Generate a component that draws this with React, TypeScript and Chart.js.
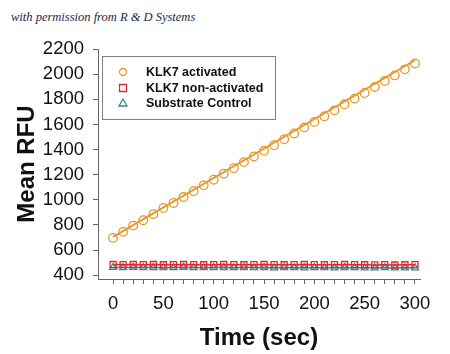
import React, { useEffect, useRef } from "react";
import { Chart, registerables } from "chart.js";

Chart.register(...registerables);

const times = [0, 10, 20, 30, 40, 50, 60, 70, 80, 90, 100, 110, 120, 130, 140, 150, 160, 170, 180, 190, 200, 210, 220, 230, 240, 250, 260, 270, 280, 290, 300];
const activated = [697, 745, 795, 838, 886, 935, 975, 1022, 1068, 1115, 1160, 1208, 1252, 1300, 1345, 1390, 1435, 1482, 1528, 1575, 1620, 1665, 1712, 1760, 1805, 1850, 1898, 1945, 1990, 2038, 2085];
const nonActivated = [485, 484, 485, 484, 485, 483, 484, 485, 484, 483, 484, 485, 484, 483, 484, 485, 484, 483, 484, 485, 484, 483, 484, 485, 484, 483, 482, 484, 481, 483, 484];
const substrate = [462, 461, 462, 461, 461, 460, 461, 462, 461, 460, 461, 461, 460, 461, 461, 460, 459, 460, 460, 459, 460, 460, 459, 460, 460, 459, 459, 460, 458, 459, 459];
const fitTimes = [0, 300];
const fitValues = [705, 2110];
const seriesLabels = ["KLK7 activated", "KLK7 non-activated", "Substrate Control"];
const yTickValues = [400, 600, 800, 1000, 1200, 1400, 1600, 1800, 2000, 2200];
const xTickValues = [0, 10, 20, 30, 40, 50, 60, 70, 80, 90, 100, 110, 120, 130, 140, 150, 160, 170, 180, 190, 200, 210, 220, 230, 240, 250, 260, 270, 280, 290, 300];
const xLabeled = [0, 50, 100, 150, 200, 250, 300];

const ORANGE = "#E8972A";
const RED = "#E4262F";
const TEAL = "#2F8C8C";

const legendPlugin = {
  id: "boxLegend",
  afterDraw(chart: any) {
    const ctx = chart.ctx;
    ctx.save();
    const x0 = 102, y0 = 56, w = 173, h = 63;
    ctx.fillStyle = "#ffffff";
    ctx.fillRect(x0, y0, w, h);
    ctx.strokeStyle = "#7f7f7f";
    ctx.lineWidth = 1;
    ctx.strokeRect(x0 + 0.5, y0 + 0.5, w, h);
    const rows = [72, 88, 103];
    const ds = chart.data.datasets.filter((d: any) => d.label);
    ds.forEach((d: any, i: number) => {
      const cy = rows[i];
      const cx = 123;
      ctx.strokeStyle = d.pointBorderColor;
      ctx.lineWidth = 1.3;
      ctx.beginPath();
      if (d.pointStyle === "circle") {
        ctx.arc(cx, cy, 3.5, 0, Math.PI * 2);
      } else if (d.pointStyle === "rect") {
        ctx.rect(cx - 3.5, cy - 3.5, 7, 7);
      } else {
        ctx.moveTo(cx, cy - 4);
        ctx.lineTo(cx + 4, cy + 3);
        ctx.lineTo(cx - 4, cy + 3);
        ctx.closePath();
      }
      ctx.stroke();
      ctx.fillStyle = "#111111";
      ctx.font = "bold 12.5px 'Liberation Sans', Arial, sans-serif";
      ctx.textBaseline = "middle";
      ctx.textAlign = "left";
      ctx.fillText(d.label, 146, cy + 0.5);
    });
    ctx.restore();
  },
};

export default function App() {
  const ref = useRef<HTMLCanvasElement | null>(null);
  useEffect(() => {
    if (!ref.current) return;
    const mk = (ys: number[]) => times.map((t, i) => ({ x: t, y: ys[i] }));
    const chart = new Chart(ref.current, {
      type: "scatter",
      data: {
        datasets: [
          {
            label: "",
            data: fitTimes.map((t, i) => ({ x: t, y: fitValues[i] })),
            showLine: true,
            borderColor: ORANGE,
            borderWidth: 1.8,
            pointRadius: 0,
            order: 0,
          },
          {
            label: seriesLabels[0],
            data: mk(activated),
            showLine: false,
            pointStyle: "circle",
            pointRadius: 4.3,
            pointBorderWidth: 1.3,
            pointBorderColor: ORANGE,
            pointBackgroundColor: "rgba(255,255,255,0)",
            borderColor: ORANGE,
          },
          {
            label: seriesLabels[1],
            data: mk(nonActivated),
            showLine: true,
            borderColor: RED,
            borderWidth: 1.5,
            pointStyle: "rect",
            pointRadius: 4.3,
            pointBorderWidth: 1.3,
            pointBorderColor: RED,
            pointBackgroundColor: "rgba(255,255,255,0)",
          },
          {
            label: seriesLabels[2],
            data: mk(substrate),
            showLine: true,
            borderColor: TEAL,
            borderWidth: 1.5,
            pointStyle: "triangle",
            pointRadius: 4,
            pointBorderWidth: 1.3,
            pointBorderColor: TEAL,
            pointBackgroundColor: "rgba(255,255,255,0)",
          },
        ] as any,
      },
      options: {
        animation: false,
        responsive: false,
        maintainAspectRatio: false,
        layout: { padding: { left: 0, top: 49, right: 30, bottom: 0 } },
        plugins: { legend: { display: false }, tooltip: { enabled: false } },
        scales: {
          x: {
            type: "linear",
            min: -15,
            max: 305,
            afterFit: (s: any) => { s.height = 75; },
            afterBuildTicks: (s: any) => { s.ticks = xTickValues.map((v) => ({ value: v })); },
            ticks: {
              autoSkip: false,
              includeBounds: false,
              maxRotation: 0,
              minRotation: 0,
              padding: 9,
              color: "#111111",
              font: { size: 18.5, family: "'Liberation Sans', Arial, sans-serif" },
              callback: (v: any) => (xLabeled.includes(Number(v)) ? String(v) : ""),
            },
            grid: { drawOnChartArea: false, tickLength: 5, color: "#666666", lineWidth: 1 },
            border: { color: "#666666", width: 1 },
            title: {
              display: true,
              text: "Time (sec)",
              color: "#111111",
              font: { size: 24, weight: "bold", family: "'Liberation Sans', Arial, sans-serif" },
              padding: { top: 0, bottom: 1 },
            },
          } as any,
          y: {
            type: "linear",
            min: 370,
            max: 2200,
            afterFit: (s: any) => { s.width = 98; },
            afterBuildTicks: (s: any) => { s.ticks = yTickValues.map((v) => ({ value: v })); },
            ticks: {
              autoSkip: false,
              includeBounds: false,
              padding: 9,
              color: "#111111",
              font: { size: 18.5, family: "'Liberation Sans', Arial, sans-serif" },
              callback: (v: any) => String(v),
            },
            grid: { drawOnChartArea: false, tickLength: 5, color: "#666666", lineWidth: 1 },
            border: { color: "#666666", width: 1 },
            title: {
              display: true,
              text: "Mean RFU",
              color: "#111111",
              font: { size: 24, weight: "bold", family: "'Liberation Sans', Arial, sans-serif" },
              padding: { top: 13, bottom: 0 },
            },
          } as any,
        },
      },
      plugins: [legendPlugin],
    });
    return () => chart.destroy();
  }, []);
  return (
    <div style={{ position: "absolute", left: 0, top: 0, width: 450, height: 354, background: "#ffffff" }}>
      <div
        style={{
          position: "absolute",
          left: 11,
          top: 10,
          fontFamily: "'Liberation Serif', 'DejaVu Serif', serif",
          fontStyle: "italic",
          fontSize: 12.5,
          color: "#1d2547",
          whiteSpace: "nowrap",
        }}
      >
        with permission from R &amp; D Systems
      </div>
      <canvas ref={ref} width={450} height={354} style={{ position: "absolute", left: 0, top: 0 }} />
    </div>
  );
}
